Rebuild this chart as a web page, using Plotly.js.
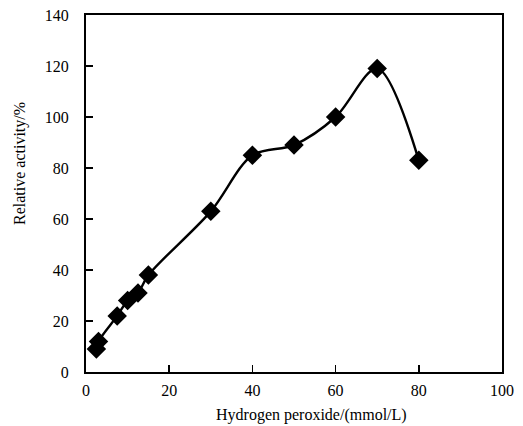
<!DOCTYPE html>
<html><head><meta charset="utf-8">
<script src="https://cdn.plot.ly/plotly-3.0.1.min.js"></script>
<style>html,body{margin:0;padding:0;background:#fff}#chart{width:523px;height:426px}</style>
</head><body><div id="chart"></div>
<script>
const peroxide = [2.5, 3, 7.5, 10, 12.5, 15, 30, 40, 50, 60, 70, 80];
const activity = [9, 12, 22, 28, 31, 38, 63, 85, 89, 100, 119, 83];
const xTicks = [0, 20, 40, 60, 80, 100];
const yTicks = [0, 20, 40, 60, 80, 100, 120, 140];
const xTitle = 'Hydrogen peroxide/(mmol/L)';
const yTitle = 'Relative activity/%';

const font = {family: 'Liberation Serif, Times New Roman, serif', size: 16, color: '#000'};
Plotly.newPlot('chart', [{
  x: peroxide, y: activity, type: 'scatter', mode: 'lines+markers',
  line: {shape: 'spline', smoothing: 0.9, color: '#000', width: 2.4},
  marker: {symbol: 'diamond', size: 15, color: '#000'}
}], {
  width: 523, height: 426,
  margin: {l: 86, r: 21, t: 15, b: 54},
  paper_bgcolor: '#fff', plot_bgcolor: '#fff',
  showlegend: false, font: font,
  xaxis: {range: [0, 100], tickvals: xTicks, ticktext: xTicks.map(String),
    ticks: 'inside', ticklen: 7, tickwidth: 1.5, tickcolor: '#000',
    showline: true, linecolor: '#000', linewidth: 2, mirror: true,
    showgrid: false, zeroline: false, tickfont: font, ticklabelstandoff: 3},
  yaxis: {range: [0, 140], tickvals: yTicks, ticktext: yTicks.map(String),
    ticks: 'inside', ticklen: 7, tickwidth: 1.5, tickcolor: '#000',
    showline: true, linecolor: '#000', linewidth: 2, mirror: true,
    showgrid: false, zeroline: false, tickfont: font, ticklabelstandoff: 12},
  annotations: [
    {text: xTitle, xref: 'paper', yref: 'paper', x: 0.543, y: -0.09, yanchor: 'top',
     showarrow: false, font: font},
    {text: yTitle, xref: 'paper', yref: 'paper', x: -0.159, y: 0.585, textangle: -90,
     xanchor: 'center', yanchor: 'middle', showarrow: false, font: font}
  ]
}, {staticPlot: true, displayModeBar: false});
</script></body></html>
